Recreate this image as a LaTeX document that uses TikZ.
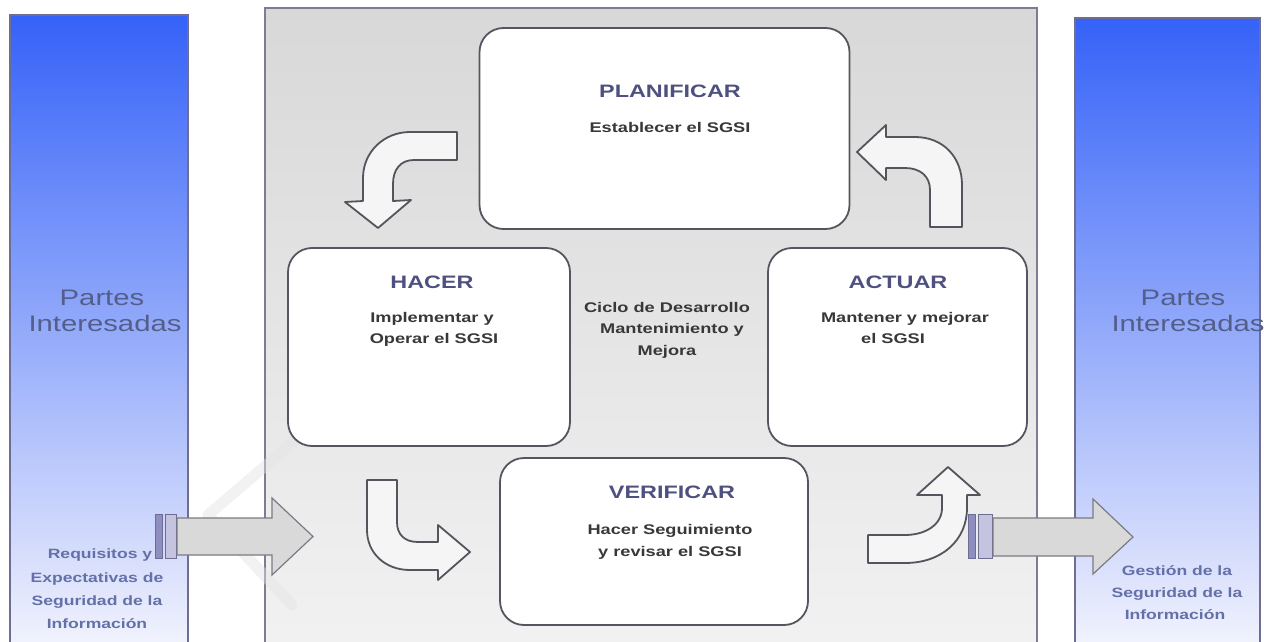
\documentclass[tikz,border=0pt]{standalone}
\usepackage{fontspec}
\setmainfont{Liberation Sans}[FakeStretch=1.3]
\definecolor{blueTop}{HTML}{3562F8}
\definecolor{blueBot}{HTML}{F6F6FD}
\definecolor{colBorder}{HTML}{6E6E94}
\definecolor{panelTop}{HTML}{D8D8D8}
\definecolor{panelBot}{HTML}{F2F2F2}
\definecolor{panelBorder}{HTML}{7C7C96}
\definecolor{boxLine}{HTML}{55555F}
\definecolor{titleCol}{HTML}{4E5080}
\definecolor{subCol}{HTML}{383838}
\definecolor{sideCol}{HTML}{545E8A}
\definecolor{sideSmall}{HTML}{6470A8}
\definecolor{arrowFill}{HTML}{F5F5F5}
\definecolor{arrowLine}{HTML}{54545C}
\definecolor{bigFill}{HTML}{D9D9D9}
\definecolor{bigLine}{HTML}{7A7A84}
\definecolor{barDark}{HTML}{8E8EC0}
\definecolor{barLight}{HTML}{C4C4E0}
\definecolor{wmark}{HTML}{E4E4E4}
\begin{document}
\begin{tikzpicture}[x=1pt,y=-1pt,
  stage/.style={draw=boxLine,line width=1.8pt,fill=white,rounded corners=24pt,inner sep=0pt},
  ttl/.style={font=\bfseries\fontsize{18}{20}\selectfont,text=titleCol,inner sep=0pt,anchor=base},
  sub/.style={font=\bfseries\fontsize{14}{16}\selectfont,text=subCol,inner sep=0pt,anchor=base},
  side/.style={font=\fontsize{22.5}{24}\selectfont,text=sideCol,inner sep=0pt,anchor=base},
  sidesmall/.style={font=\bfseries\fontsize{13.5}{15}\selectfont,text=sideSmall,inner sep=0pt,anchor=base},
  curv/.style={fill=arrowFill,draw=arrowLine,line width=1.8pt,line join=round},
  bigarr/.style={fill=bigFill,draw=bigLine,line width=1.2pt,line join=miter},
  bar/.style={draw=colBorder,line width=0.8pt}
]
\useasboundingbox (0,0) rectangle (1264,642);
\fill[white] (0,0) rectangle (1264,642);

% side columns
\shade[top color=blueTop,bottom color=blueBot] (10,15) rectangle (188,660);
\draw[colBorder,line width=1.2pt] (10,660) -- (10,15) -- (188,15) -- (188,660);
\shade[top color=blueTop,bottom color=blueBot] (1075,18) rectangle (1260,660);
\draw[colBorder,line width=1.2pt] (1075,660) -- (1075,18) -- (1260,18) -- (1260,660);

% central panel
\shade[top color=panelTop,bottom color=panelBot] (265,8) rectangle (1037,660);
\draw[panelBorder,line width=1.3pt] (265,660) -- (265,8) -- (1037,8) -- (1037,660);

% faint watermark
\draw[wmark,line width=11pt,opacity=0.45,line cap=round,line join=round] (298,438) -- (208,515) -- (292,605);

% stage boxes
\node[stage,minimum width=370pt,minimum height=201pt] (plan) at (664.5,128.5) {};
\node[stage,minimum width=282pt,minimum height=198pt] (hacer) at (429,347) {};
\node[stage,minimum width=259pt,minimum height=198pt] (actuar) at (897.5,347) {};
\node[stage,minimum width=308pt,minimum height=167pt] (verif) at (654,541.5) {};

% texts in boxes
\node[ttl] (tplan) at (670,98) {PLANIFICAR};
\node[sub] (splan) at (670,132) {Establecer el SGSI};
\node[ttl] (thacer) at (432,288) {HACER};
\node[sub] (shacer1) at (432,322) {Implementar y};
\node[sub] (shacer2) at (434,343) {Operar el SGSI};
\node[ttl] (tactuar) at (898,288) {ACTUAR};
\node[sub] (sactuar1) at (905,322) {Mantener y mejorar};
\node[sub] (sactuar2) at (893,343) {el SGSI};
\node[ttl] (tverif) at (672,498) {VERIFICAR};
\node[sub] (sverif1) at (670,534) {Hacer Seguimiento};
\node[sub] (sverif2) at (670,556) {y revisar el SGSI};

% centre text
\node[sub] (c1) at (667,312) {Ciclo de Desarrollo};
\node[sub] (c2) at (672,333) {Mantenimiento y};
\node[sub] (c3) at (667,355) {Mejora};

% side texts
\node[side] (lp1) at (102,305) {Partes};
\node[side] (lp2) at (105,331) {Interesadas};
\node[side] (rp1) at (1183,305) {Partes};
\node[side] (rp2) at (1188,331) {Interesadas};
\node[sidesmall] (lr1) at (100,558) {Requisitos y};
\node[sidesmall] (lr2) at (97,582) {Expectativas de};
\node[sidesmall] (lr3) at (97,605) {Seguridad de la};
\node[sidesmall] (lr4) at (97,628) {Información};
\node[sidesmall] (rg1) at (1177,575) {Gestión de la};
\node[sidesmall] (rg2) at (1177,597) {Seguridad de la};
\node[sidesmall] (rg3) at (1175,619) {Información};

% curved arrows of the cycle
\draw[curv] (457,132) -- (410,132) .. controls (384,132) and (363,152) .. (363,178) -- (363,201) -- (345,202) -- (378,228) -- (411,200) -- (393,201) -- (393,184) .. controls (393,170) and (400,160) .. (414,160) -- (457,160) -- cycle;
\draw[curv] (930,227) -- (962,227) -- (962,185) .. controls (962,157) and (943,137) .. (915,137) -- (886,137) -- (886,125) -- (857,152) -- (886,180) -- (886,168) -- (905,168) .. controls (920,168) and (930,176) .. (930,190) -- cycle;
\draw[curv] (367,480) -- (397,480) -- (397,522) .. controls (397,535) and (405,542) .. (418,542) -- (438,542) -- (438,525) -- (470,552) -- (438,580) -- (438,570) -- (410,570) .. controls (385,570) and (367,553) .. (367,530) -- cycle;
\draw[curv] (868,535) -- (905,535) .. controls (925,535) and (942,525) .. (942,508) -- (942,495) -- (917,495) -- (948,467) -- (980,495) -- (967,495) -- (967,508) .. controls (967,540) and (942,563) .. (905,563) -- (868,563) -- cycle;

% big input / output arrows
\draw[bar,fill=barDark] (155,514) rectangle (162,558);
\draw[bar,fill=barLight] (165,514) rectangle (176,558);
\draw[bigarr] (177,518) -- (272,518) -- (272,498) -- (313,536.5) -- (272,575) -- (272,555) -- (177,555) -- cycle;
\draw[bar,fill=barDark] (968,514) rectangle (975,558);
\draw[bar,fill=barLight] (978,514) rectangle (992,558);
\draw[bigarr] (993,518) -- (1093,518) -- (1093,499) -- (1133,537) -- (1093,574) -- (1093,556) -- (993,556) -- cycle;
\end{tikzpicture}
\end{document}
